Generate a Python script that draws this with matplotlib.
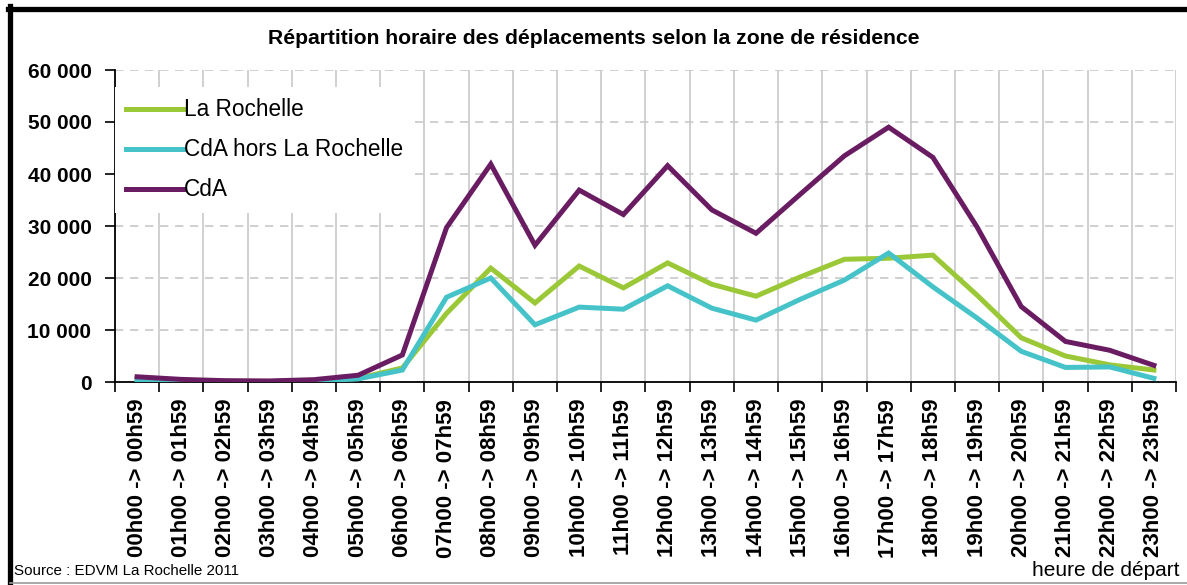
import matplotlib
matplotlib.use('Agg')
import matplotlib.pyplot as plt
from matplotlib.lines import Line2D
from matplotlib.ticker import FuncFormatter, FixedLocator

plt.rcParams['font.family'] = ['Liberation Sans', 'DejaVu Sans']

# Hourly departure slots
hours = ['%02dh00 -> %02dh59' % (h, h) for h in range(24)]

# Trips per departure hour, by residence zone
la_rochelle = [600, 300, 150, 100, 250, 700, 2700, 13200, 21900, 15200, 22300, 18100,
               22900, 18800, 16500, 20200, 23600, 23800, 24400, 16700, 8500, 5000, 3300, 2300]
cda_hors_lr = [400, 200, 100, 100, 200, 600, 2300, 16300, 20000, 11000, 14400, 14000,
               18500, 14200, 11900, 15900, 19600, 24800, 18300, 12300, 5900, 2800, 2900, 700]
cda = [1000, 500, 250, 200, 450, 1300, 5200, 29700, 41900, 26300, 36900, 32200,
       41600, 33100, 28600, 36100, 43500, 49000, 43200, 29800, 14500, 7800, 6100, 3200]

series_names = ['La Rochelle', 'CdA hors La Rochelle', 'CdA']
series_colors = ['#9bc837', '#46c3c9', '#6a1c62']

W, H = 1187, 585
fig = plt.figure(figsize=(W / 100, H / 100), dpi=100)
ax = fig.add_axes([115 / W, 1 - 382 / H, (1176 - 115) / W, (382 - 70) / H])

x = list(range(len(hours)))
for vals, name, col in zip([la_rochelle, cda_hors_lr, cda], series_names, series_colors):
    ax.plot(x, vals, color=col, lw=3.6, label=name, solid_joinstyle='miter', zorder=3)

ax.set_xlim(-0.5, len(hours) - 0.5)
ax.set_ylim(0, 60000)

# category labels centred, tick marks + vertical grid on the boundaries
ax.set_xticks(x)
ax.set_xticklabels(hours, rotation=90, fontsize=16, fontweight='bold')
ax.xaxis.set_minor_locator(FixedLocator([i - 0.5 for i in range(len(hours) + 1)]))
ax.tick_params(axis='x', which='major', length=0, pad=12)
ax.tick_params(axis='x', which='minor', length=7, width=1.2, direction='out')
ax.grid(axis='x', which='minor', color='#c8c8c8', lw=1.2, ls='-', zorder=0)

ax.set_yticks(range(0, 60001, 10000))
ax.yaxis.set_major_formatter(FuncFormatter(lambda v, p: '{:,}'.format(int(v)).replace(',', ' ')))
ax.tick_params(axis='y', length=7, width=1.2, direction='out', labelsize=15, pad=10)
for t in ax.get_yticklabels():
    t.set_fontweight('bold')
ax.grid(axis='y', which='major', color='#c8c8c8', lw=1.2, ls=(0, (5, 4)), zorder=0)

for s in ['top', 'right']:
    ax.spines[s].set_visible(False)
for s in ['left', 'bottom']:
    ax.spines[s].set_linewidth(1.3)

leg = ax.legend(loc='upper left', bbox_to_anchor=(0.0, 0.945), fontsize=16.3,
                frameon=True, fancybox=False, framealpha=1, handlelength=2.5,
                handletextpad=0.05, labelspacing=0.75, borderpad=0.5, borderaxespad=0)
leg.get_frame().set_edgecolor('none')
leg.get_frame().set_facecolor('white')
leg.set_zorder(5)

fig.text(0.5, 1 - 38 / H, 'Répartition horaire des déplacements selon la zone de résidence',
         ha='center', va='center', fontsize=15.2, fontweight='bold')
fig.text(14 / W, 1 - 571 / H, 'Source : EDVM La Rochelle 2011', ha='left', va='center', fontsize=10.9)
fig.text(1180 / W, 1 - 570 / H, 'heure de départ', ha='right', va='center', fontsize=15)

# outer frame
fig.add_artist(Line2D([10 / W, 10 / W], [1 - 6 / H, 1 - 584 / H], color='black', lw=3.8,
                      transform=fig.transFigure))
fig.add_artist(Line2D([8 / W, 1], [1 - 9 / H, 1 - 9 / H], color='black', lw=3.8,
                      transform=fig.transFigure))
fig.add_artist(Line2D([10 / W, 1], [1 - 583 / H, 1 - 583 / H], color='#999999', lw=1.2,
                      transform=fig.transFigure))

fig.savefig('out.png', dpi=100)
